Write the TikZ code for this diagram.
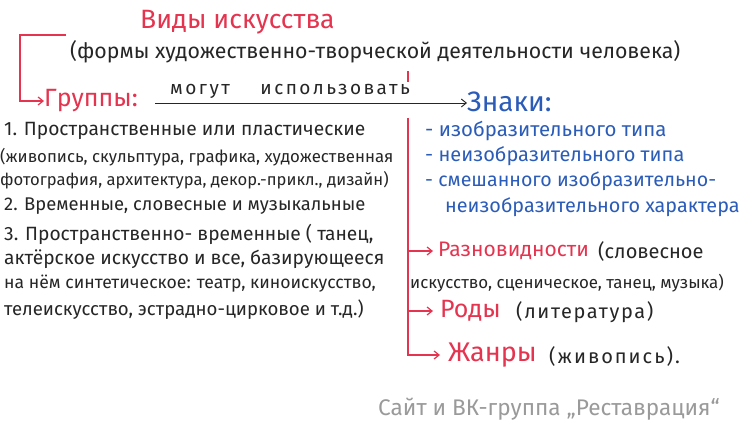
\documentclass[tikz,border=0pt]{standalone}
\usepackage{fontspec}
\setmainfont{Fira Sans}
\usetikzlibrary{arrows.meta}
\definecolor{redink}{HTML}{E4344F}
\definecolor{blueink}{HTML}{2B5CB8}
\definecolor{blackink}{HTML}{262626}
\definecolor{greyink}{HTML}{9A9A9A}
\newcommand{\fsz}[1]{\fontsize{#1}{#1}\selectfont}
\tikzset{
  txt/.style={anchor=west,inner sep=0pt,text=blackink,font=\fsz{18}},
  redtxt/.style={txt,text=redink},
  bluetxt/.style={txt,text=blueink},
  redline/.style={draw=redink,line width=1.2pt},
  tip/.style={-{Straight Barb[length=5pt,width=8pt]}},
}
\begin{document}
\begin{tikzpicture}[x=1pt,y=-1pt]
\useasboundingbox[fill=white] (0,0) rectangle (750,426);
% title
\node[redtxt,font=\fsz{26.5}] (title) at (140,22) {Виды искусства};
\node[txt,font=\fsz{21.3}] (sub) at (70,52) {(формы художественно-творческой деятельности человека)};
% bracket to groups
\coordinate (brTop) at (66,35);
\coordinate (brCorner) at (20,35);
\node[redtxt,font=\fsz{25}] (grp) at (44,101) {Группы:};
\draw[redline,tip] (brTop) -- (brCorner) |- (grp.west);
% tick
\coordinate (tickA) at (408,71);
\coordinate (tickB) at (408,82);
\draw[redline] (tickA) -- (tickB);
% arrow to signs
\node[bluetxt,font=\fsz{28}] (zn) at (467,102) {Знаки:};
\coordinate (useS) at (155,103);
\draw[draw=blackink,line width=0.9pt,tip] (useS) -- (useS -| zn.west);
\node[txt,anchor=south west,font=\fsz{19}\addfontfeature{LetterSpace=13},text=blackink] (use) at (170,99) {могут\hspace{1.6em}использовать};
% left column
\node[txt,font=\fsz{19.2}] (l1) at (4,131) {1. Пространственные или пластические};
\node[txt,font=\fsz{16.8}] (l2) at (0,157) {(живопись, скульптура, графика, художественная};
\node[txt,font=\fsz{16.6}] (l3) at (0,180) {фотография, архитектура, декор.-прикл., дизайн)};
\node[txt,font=\fsz{18.4}] (l4) at (4,206) {2. Временные, словесные и музыкальные};
\node[txt,font=\fsz{19.2}] (l5) at (4,234) {3. Пространственно- временные ( танец,};
\node[txt,font=\fsz{19.2}] (l6) at (4,259) {актёрское искусство и все, базирующееся};
\node[txt,font=\fsz{17.6}] (l7) at (4,284) {на нём синтетическое: театр, киноискусство,};
\node[txt,font=\fsz{18.6}] (l8) at (4,310) {телеискусство, эстрадно-цирковое и т.д.)};
% signs list
\node[bluetxt,font=\fsz{20.4}] (s1) at (425,131) {- изобразительного типа};
\node[bluetxt,font=\fsz{20}] (s2) at (425,156) {- неизобразительного типа};
\node[bluetxt,font=\fsz{19.6}] (s3) at (425,181) {- смешанного изобразительно-};
\node[bluetxt,font=\fsz{19.8}] (s4) at (445,207) {неизобразительного характера};
% right branches
\coordinate (vTop) at (408,118);
\node[redtxt,font=\fsz{21}] (razn) at (438,251) {Разновидности};
\node[txt,font=\fsz{20}] (raznA) at (598,251) {(словесное};
\node[txt,font=\fsz{16.9}] (raznB) at (410,283) {искусство, сценическое, танец, музыка)};
\node[redtxt,font=\fsz{25}] (rody) at (440,311) {Роды};
\node[txt,font=\fsz{20}\addfontfeature{LetterSpace=8}] (rodyA) at (516,312) {(литература)};
\node[redtxt,font=\fsz{27}] (zh) at (448,355) {Жанры};
\node[txt,font=\fsz{20}\addfontfeature{LetterSpace=10}] (zhA) at (549,356) {(живопись).};
\draw[redline,tip] (vTop) |- ([xshift=-5pt]razn.west);
\draw[redline,tip] (vTop) |- ([xshift=-7pt]rody.west);
\draw[redline,tip] (vTop) |- ([xshift=-8pt]zh.west);
% footer
\node[txt,text=greyink,font=\fsz{22.6}] (foot) at (378,409) {Сайт и ВК-группа „Реставрация“};
\end{tikzpicture}
\end{document}
